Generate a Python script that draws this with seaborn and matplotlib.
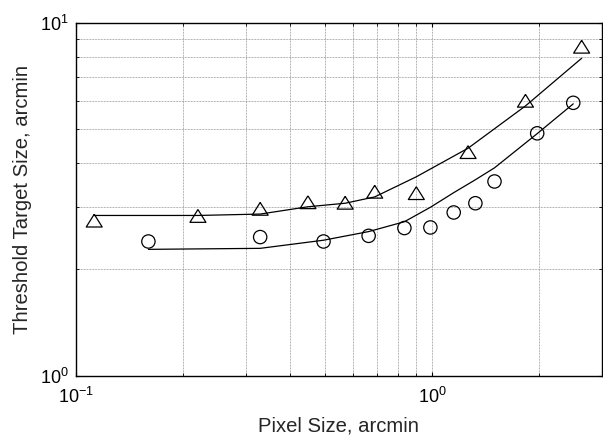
import matplotlib
matplotlib.use("Agg")
import matplotlib.pyplot as plt
import matplotlib.ticker as mticker
import numpy as np
import pandas as pd
import seaborn as sns

# --- data ---
tri_x = [0.1125, 0.220, 0.329, 0.448, 0.570, 0.690, 0.903, 1.262, 1.829, 2.63]
tri_y = [2.75, 2.835, 2.97, 3.10, 3.09, 3.32, 3.29, 4.30, 6.01, 8.55]
tri_fit = [2.844, 2.844, 2.87, 3.01, 3.08, 3.21, 3.66, 4.41, 5.81, 7.93]

circ_x = [0.1597, 0.329, 0.4956, 0.6634, 0.836, 0.989, 1.15, 1.323, 1.497, 1.973, 2.491]
circ_y = [2.40, 2.47, 2.40, 2.49, 2.62, 2.63, 2.90, 3.08, 3.55, 4.86, 5.93]
circ_fit = [2.28, 2.295, 2.42, 2.56, 2.73, 3.00, 3.30, 3.59, 3.88, 4.85, 5.89]

x_label = "Pixel Size, arcmin"
y_label = "Threshold Target Size, arcmin"

sns.set_theme(style="white")
plt.rcParams["font.family"] = ["Liberation Sans", "DejaVu Sans"]
plt.rcParams["mathtext.fontset"] = "custom"
plt.rcParams["mathtext.rm"] = "Liberation Sans"

fig = plt.figure(figsize=(6.03, 4.41), dpi=100)
ax = fig.add_axes([76 / 603, 1 - 375.7 / 441, (602 - 76) / 603, (375.7 - 22.7) / 441])

tri = pd.DataFrame({"x": tri_x, "y": tri_y, "fit": tri_fit})
circ = pd.DataFrame({"x": circ_x, "y": circ_y, "fit": circ_fit})

sns.lineplot(data=tri, x="x", y="fit", sort=False, color="black", lw=0.9, ax=ax)
sns.lineplot(data=circ, x="x", y="fit", sort=False, color="black", lw=0.9, ax=ax)

tri_marker = [(0, 0.8), (-1, -0.8), (1, -0.8), (0, 0.8)]
sns.scatterplot(data=tri, x="x", y="y", marker=tri_marker, s=11.5 ** 2,
                facecolors="none", edgecolor="black", linewidth=0.9, ax=ax, zorder=3)
sns.scatterplot(data=circ, x="x", y="y", marker="o", s=9.6 ** 2,
                facecolors="none", edgecolor="black", linewidth=0.9, ax=ax, zorder=3)

ax.set_xscale("log")
ax.set_yscale("log")
ax.set_xlim(0.1, 3.0)
ax.set_ylim(1, 10)

ax.xaxis.set_major_locator(mticker.LogLocator(base=10))
ax.yaxis.set_major_locator(mticker.LogLocator(base=10))
ax.xaxis.set_minor_locator(mticker.LogLocator(base=10, subs=np.arange(2, 10)))
ax.yaxis.set_minor_locator(mticker.LogLocator(base=10, subs=np.arange(2, 10)))
ax.xaxis.set_minor_formatter(mticker.NullFormatter())
ax.yaxis.set_minor_formatter(mticker.NullFormatter())

ax.grid(True, which="both", color="#808080", linestyle=(0, (1, 1)), linewidth=0.55)
ax.set_axisbelow(True)

ax.tick_params(which="both", direction="in", top=True, right=True,
               bottom=True, left=True, colors="black", labelsize=13)
ax.tick_params(which="major", length=3, width=0.8)
ax.tick_params(which="minor", length=2, width=0.6)
ax.tick_params(axis="x", which="major", pad=8)
ax.tick_params(axis="y", which="major", pad=5)

for sp in ax.spines.values():
    sp.set_visible(True)
    sp.set_color("black")
    sp.set_linewidth(1.0)

ax.set_xlabel(x_label, fontsize=14.6, labelpad=7)
ax.set_ylabel(y_label, fontsize=14.6, labelpad=6)

fig.savefig("out.png", dpi=100)
